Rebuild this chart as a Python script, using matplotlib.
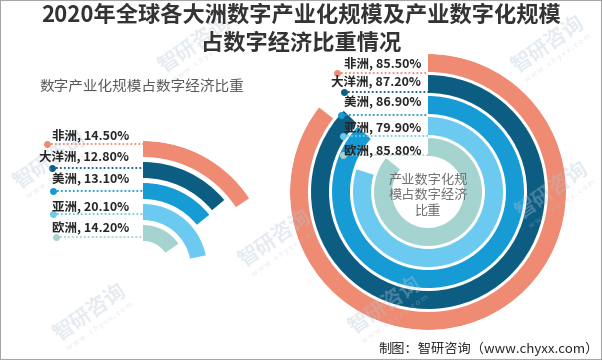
import numpy as np
import matplotlib
matplotlib.use("Agg")
import matplotlib.pyplot as plt
from matplotlib.patches import Rectangle

plt.rcParams['font.family'] = ['Noto Sans CJK SC', 'DejaVu Sans']

# data
regions = ['非洲', '大洋洲', '美洲', '亚洲', '欧洲']
industry_share = [14.50, 12.80, 13.10, 20.10, 14.20]     # 数字产业化规模占比
digitization_share = [85.50, 87.20, 86.90, 79.90, 85.80]  # 产业数字化规模占比
colors = ['#EE8B72', '#0D5D83', '#169BD5', '#6CCAF0', '#A5D3D0']

title = '2020年全球各大洲数字产业化规模及产业数字化规模\n占数字经济比重情况'
left_title = '数字产业化规模占数字经济比重'
center_text = '产业数字化规\n模占数字经济\n比重'
source = '制图：智研咨询（www.chyxx.com）'

# layout (pixels)
W, H = 602, 360
L_center, L_outer, L_thick, L_pitch, L_full = (143, 268), 127, 16, 21, 92.0
R_center, R_outer, R_thick, R_pitch, R_full = (428, 192), 138, 18, 21, 100.0
L_line_y = [144, 168, 191, 214, 237]
L_dot_x = [47, 52, 53, 53, 56]
L_text_y = [135, 157, 180, 207, 229]
R_line_y = [73, 92, 115, 136, 155]
R_dot_x = [337, 344, 341, 343, 343]
R_text_y = [63, 82, 103, 128, 152]
wm_pos = [(195, 44), (548, 44), (50, 160), (275, 238), (90, 312), (385, 305), (552, 190)]

fig = plt.figure(figsize=(W / 100, H / 100), dpi=100)


def radial(center, outer, thick, pitch, full, values):
    cx, cy = center
    ax = fig.add_axes([(cx - outer) / W, (H - cy - outer) / H, 2 * outer / W, 2 * outer / H],
                      projection='polar')
    ax.set_theta_zero_location('N')
    ax.set_theta_direction(-1)
    ax.set_ylim(0, outer)
    for i, v in enumerate(values):
        r_out = outer - i * pitch
        ax.bar(0, thick, width=v / full * 2 * np.pi, bottom=r_out - thick,
               align='edge', color=colors[i], edgecolor='none')
    ax.axis('off')
    return ax


radial(L_center, L_outer, L_thick, L_pitch, L_full, industry_share)
radial(R_center, R_outer, R_thick, R_pitch, R_full, digitization_share)

# overlay in pixel coordinates
ax = fig.add_axes([0, 0, 1, 1])
ax.set_xlim(0, W)
ax.set_ylim(H, 0)
ax.axis('off')

for i, name in enumerate(regions):
    # left chart leaders + labels
    ax.plot([L_dot_x[i], L_center[0]], [L_line_y[i]] * 2, ls=(0, (1, 1.2)), lw=1.3, color=colors[i])
    ax.plot(L_dot_x[i], L_line_y[i], 'o', ms=4, color=colors[i])
    ax.text(129, L_text_y[i], f'{name}, {industry_share[i]:.2f}%', ha='right', va='center',
            fontsize=9, fontweight='bold', color='#262626', zorder=6)
    # right chart leaders + labels
    ax.plot([R_dot_x[i], R_center[0]], [R_line_y[i]] * 2, ls=(0, (1, 1.2)), lw=1.3, color=colors[i])
    ax.plot(R_dot_x[i], R_line_y[i], 'o', ms=4, color=colors[i])
    ax.text(421, R_text_y[i], f'{name}, {digitization_share[i]:.2f}%', ha='right', va='center',
            fontsize=9, fontweight='bold', color='#262626', zorder=6)

ax.text(W / 2, 4, title, ha='center', va='top', fontsize=16, fontweight='bold',
        color='#333333', linespacing=1.25, zorder=6)
ax.text(142, 88, left_title, ha='center', va='center', fontsize=10.5, color='#595959', zorder=6)
ax.text(R_center[0], 196, center_text, ha='center', va='center', fontsize=9.5,
        color='#6E6E6E', linespacing=1.25, zorder=6)
ax.text(599, 349, source, ha='right', va='center', fontsize=9.5, color='#262626', zorder=6)

# faint watermark
for x, y in wm_pos:
    ax.text(x, y, '智研咨询', ha='center', va='center', rotation=35, fontsize=15,
            fontweight='bold', color='#B8C6D8', alpha=0.35, zorder=5)
    ax.text(x + 10, y + 14, 'w w w . c h y x x . c o m', ha='center', va='center',
            rotation=35, fontsize=5.5, color='#B8C6D8', alpha=0.35, zorder=5)

fig.add_artist(Rectangle((0, 0), 1, 1, transform=fig.transFigure, fill=False,
                         edgecolor='#A6A6A6', lw=1.5))

fig.savefig('out.png', dpi=100)
